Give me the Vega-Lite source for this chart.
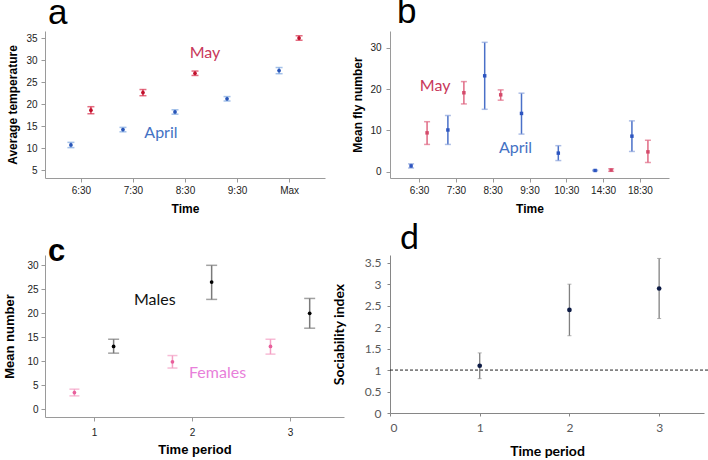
{
"$schema": "https://vega.github.io/schema/vega-lite/v6.json",
"padding": {"left": 3, "top": -5, "right": 0, "bottom": 0},
"bounds": "flush",
"columns": 2,
"spacing": {"row": 77, "column": 46},
"config": {
 "view": {"stroke": null},
 "axis": {"grid": false, "labelOverlap": false, "domainColor": "#9a9a9a", "tickColor": "#9a9a9a", "labelFont": "Liberation Sans", "labelFontSize": 10, "labelColor": "#222", "titleFont": "Liberation Sans", "titleFontWeight": "bold", "titleFontSize": 12, "titleColor": "#000", "tickSize": 4}
},
"datasets": {
 "temp": [
  {"period":"6:30","month":"April","mean":10.7,"lo":10.1,"hi":11.3},
  {"period":"7:30","month":"April","mean":14.2,"lo":13.7,"hi":14.7},
  {"period":"8:30","month":"April","mean":18.2,"lo":17.7,"hi":18.7},
  {"period":"9:30","month":"April","mean":21.2,"lo":20.7,"hi":21.7},
  {"period":"Max","month":"April","mean":27.6,"lo":26.9,"hi":28.3},
  {"period":"6:30","month":"May","mean":18.6,"lo":17.8,"hi":19.4},
  {"period":"7:30","month":"May","mean":22.6,"lo":21.9,"hi":23.3},
  {"period":"8:30","month":"May","mean":27.0,"lo":26.5,"hi":27.5},
  {"period":"Max","month":"May","mean":35.0,"lo":34.5,"hi":35.5}
 ],
 "fly": [
  {"period":"6:30","month":"April","mean":1.4,"lo":0.9,"hi":1.9},
  {"period":"7:30","month":"April","mean":10.1,"lo":6.6,"hi":13.6},
  {"period":"8:30","month":"April","mean":23.2,"lo":15.1,"hi":31.3},
  {"period":"9:30","month":"April","mean":14.1,"lo":9.1,"hi":19.0},
  {"period":"10:30","month":"April","mean":4.5,"lo":2.7,"hi":6.3},
  {"period":"14:30","month":"April","mean":0.3,"lo":0.2,"hi":0.4},
  {"period":"18:30","month":"April","mean":8.6,"lo":4.9,"hi":12.3},
  {"period":"6:30","month":"May","mean":9.4,"lo":6.6,"hi":12.1},
  {"period":"7:30","month":"May","mean":19.1,"lo":16.4,"hi":21.8},
  {"period":"8:30","month":"May","mean":18.6,"lo":17.3,"hi":19.8},
  {"period":"14:30","month":"May","mean":0.4,"lo":0.1,"hi":0.7},
  {"period":"18:30","month":"May","mean":4.8,"lo":2.2,"hi":7.6}
 ],
 "sex": [
  {"period":1,"sex":"Females","mean":3.5,"lo":2.8,"hi":4.2},
  {"period":2,"sex":"Females","mean":9.9,"lo":8.6,"hi":11.2},
  {"period":3,"sex":"Females","mean":13.1,"lo":11.5,"hi":14.6},
  {"period":1,"sex":"Males","mean":13.1,"lo":11.7,"hi":14.6},
  {"period":2,"sex":"Males","mean":26.5,"lo":22.9,"hi":30.0},
  {"period":3,"sex":"Males","mean":20.0,"lo":16.9,"hi":23.1}
 ],
 "soc": [
  {"period":1,"mean":1.1,"lo":0.8,"hi":1.4},
  {"period":2,"mean":2.4,"lo":1.8,"hi":3.0},
  {"period":3,"mean":2.9,"lo":2.2,"hi":3.6}
 ],
 "ref": [{"level": 1, "from": 0, "to": 3.58}],
 "notes_a": [
  {"text":"May","period":"8:30","y":31.6},
  {"text":"April","period":"7:30","y":13.4}
 ],
 "notes_b": [
  {"text":"May","period":"6:30","y":20.7},
  {"text":"April","period":"9:30","y":5.8}
 ],
 "notes_c": [
  {"text":"Males","period":1.62,"y":22.7},
  {"text":"Females","period":2.26,"y":7.56}
 ]
},
"concat": [
  {
   "width": 280, "height": 147,
   "title": {"text": "a", "anchor": "start", "frame": "group", "font": "Liberation Sans", "fontSize": 35, "fontWeight": "normal", "color": "#000", "baseline": "alphabetic", "offset": -28, "dx": 3},
   "data": {"name": "temp"},
   "encoding": {
    "x": {"field": "period", "type": "ordinal", "sort": ["6:30","7:30","8:30","9:30","Max"], "scale": {"type": "point", "padding": 0.69}, "axis": {"title": "Time", "labelAngle": 0, "labelPadding": 3, "titlePadding": 8}}
   },
   "layer": [
    {"transform": [{"filter": "datum.month === 'April'"}], "layer": [
     {"mark": {"type": "rule", "xOffset": -10, "color": "#7ea6e0", "strokeWidth": 1.5}, "encoding": {"y": {"field": "lo", "type": "quantitative", "title": "Average temperature", "scale": {"domain": [3.2, 36.6], "nice": false, "zero": false}, "axis": {"values": [5,10,15,20,25,30,35], "tickCount": 20, "labelOverlap": false, "labelPadding": 4, "titlePadding": 6}}, "y2": {"field": "hi"}}},
     {"mark": {"type": "tick", "orient": "horizontal", "xOffset": -10, "color": "#7ea6e0", "size": 7, "thickness": 1.5}, "encoding": {"y": {"field": "lo", "type": "quantitative", "title": "Average temperature"}}},
     {"mark": {"type": "tick", "orient": "horizontal", "xOffset": -10, "color": "#7ea6e0", "size": 7, "thickness": 1.5}, "encoding": {"y": {"field": "hi", "type": "quantitative", "title": "Average temperature"}}},
     {"mark": {"type": "point", "filled": true, "opacity": 1, "xOffset": -10, "color": "#2855b8", "size": 14}, "encoding": {"y": {"field": "mean", "type": "quantitative", "title": "Average temperature"}}}
    ]},
    {"transform": [{"filter": "datum.month === 'May'"}], "layer": [
     {"mark": {"type": "rule", "xOffset": 10, "color": "#d8324e", "strokeWidth": 1.5}, "encoding": {"y": {"field": "lo", "type": "quantitative", "title": "Average temperature"}, "y2": {"field": "hi"}}},
     {"mark": {"type": "tick", "orient": "horizontal", "xOffset": 10, "color": "#d8324e", "size": 7, "thickness": 1.5}, "encoding": {"y": {"field": "lo", "type": "quantitative", "title": "Average temperature"}}},
     {"mark": {"type": "tick", "orient": "horizontal", "xOffset": 10, "color": "#d8324e", "size": 7, "thickness": 1.5}, "encoding": {"y": {"field": "hi", "type": "quantitative", "title": "Average temperature"}}},
     {"mark": {"type": "point", "filled": true, "opacity": 1, "xOffset": 10, "color": "#c0102c", "size": 14}, "encoding": {"y": {"field": "mean", "type": "quantitative", "title": "Average temperature"}}}
    ]},
    {"data": {"name": "notes_a"}, "transform": [{"filter": "datum.text === 'May'"}], "mark": {"type": "text", "dx": 20, "font": "Lato", "fontSize": 16, "color": "#c8385a"}, "encoding": {"y": {"field": "y", "type": "quantitative", "title": "Average temperature"}, "text": {"field": "text"}}},
    {"data": {"name": "notes_a"}, "transform": [{"filter": "datum.text === 'April'"}], "mark": {"type": "text", "dx": 28, "font": "Lato", "fontSize": 16, "color": "#4472c4"}, "encoding": {"y": {"field": "y", "type": "quantitative", "title": "Average temperature"}, "text": {"field": "text"}}}
   ]
  },
  {
   "width": 279, "height": 147,
   "title": {"text": "b", "anchor": "start", "frame": "group", "font": "Liberation Sans", "fontSize": 35, "fontWeight": "normal", "color": "#000", "baseline": "alphabetic", "offset": -27, "dx": 7},
   "data": {"name": "fly"},
   "encoding": {
    "x": {"field": "period", "type": "ordinal", "sort": ["6:30","7:30","8:30","9:30","10:30","14:30","18:30"], "scale": {"type": "point", "padding": 0.79}, "axis": {"title": "Time", "labelAngle": 0, "labelPadding": 3, "titlePadding": 8}}
   },
   "layer": [
    {"transform": [{"filter": "datum.month === 'April'"}], "layer": [
     {"mark": {"type": "rule", "xOffset": -8, "color": "#4a70c8", "strokeWidth": 1.5}, "encoding": {"y": {"field": "lo", "type": "quantitative", "title": "Mean fly number", "scale": {"domain": [-1.52, 34.04], "nice": false, "zero": false}, "axis": {"values": [0,10,20,30], "tickCount": 20, "labelOverlap": false, "labelPadding": 5, "titlePadding": 5}}, "y2": {"field": "hi"}}},
     {"mark": {"type": "tick", "orient": "horizontal", "xOffset": -8, "color": "#8aa2dc", "size": 6, "thickness": 1.5}, "encoding": {"y": {"field": "lo", "type": "quantitative", "title": "Mean fly number"}}},
     {"mark": {"type": "tick", "orient": "horizontal", "xOffset": -8, "color": "#8aa2dc", "size": 6, "thickness": 1.5}, "encoding": {"y": {"field": "hi", "type": "quantitative", "title": "Mean fly number"}}},
     {"mark": {"type": "point", "shape": "square", "filled": true, "opacity": 1, "xOffset": -8, "color": "#2d55c0", "size": 12}, "encoding": {"y": {"field": "mean", "type": "quantitative", "title": "Mean fly number"}}}
    ]},
    {"transform": [{"filter": "datum.month === 'May'"}], "layer": [
     {"mark": {"type": "rule", "xOffset": 8, "color": "#e06a84", "strokeWidth": 1.5}, "encoding": {"y": {"field": "lo", "type": "quantitative", "title": "Mean fly number"}, "y2": {"field": "hi"}}},
     {"mark": {"type": "tick", "orient": "horizontal", "xOffset": 8, "color": "#e06a84", "size": 6, "thickness": 1.5}, "encoding": {"y": {"field": "lo", "type": "quantitative", "title": "Mean fly number"}}},
     {"mark": {"type": "tick", "orient": "horizontal", "xOffset": 8, "color": "#e06a84", "size": 6, "thickness": 1.5}, "encoding": {"y": {"field": "hi", "type": "quantitative", "title": "Mean fly number"}}},
     {"mark": {"type": "point", "shape": "square", "filled": true, "opacity": 1, "xOffset": 8, "color": "#d44a6a", "size": 12}, "encoding": {"y": {"field": "mean", "type": "quantitative", "title": "Mean fly number"}}}
    ]},
    {"data": {"name": "notes_b"}, "transform": [{"filter": "datum.text === 'May'"}], "mark": {"type": "text", "dx": 16, "font": "Lato", "fontSize": 16, "color": "#c8385a"}, "encoding": {"y": {"field": "y", "type": "quantitative", "title": "Mean fly number"}, "text": {"field": "text"}}},
    {"data": {"name": "notes_b"}, "transform": [{"filter": "datum.text === 'April'"}], "mark": {"type": "text", "dx": -14, "font": "Lato", "fontSize": 16, "color": "#4472c4"}, "encoding": {"y": {"field": "y", "type": "quantitative", "title": "Mean fly number"}, "text": {"field": "text"}}}
   ]
  },
  {
   "width": 299, "height": 162,
   "title": {"text": "c", "anchor": "start", "frame": "group", "font": "Liberation Sans", "fontSize": 31, "fontWeight": "bold", "color": "#000", "baseline": "alphabetic", "offset": -37, "dx": 3},
   "data": {"name": "sex"},
   "encoding": {
    "x": {"field": "period", "type": "quantitative", "scale": {"domain": [0.5, 3.55], "nice": false, "zero": false}, "axis": {"title": "Time period", "values": [1,2,3], "tickCount": 20, "format": "d", "labelPadding": 6, "titlePadding": 6, "titleFontSize": 13}}
   },
   "layer": [
    {"transform": [{"filter": "datum.sex === 'Females'"}], "layer": [
     {"mark": {"type": "rule", "xOffset": -19.6, "color": "#f4a0c4", "strokeWidth": 1.5}, "encoding": {"y": {"field": "lo", "type": "quantitative", "title": "Mean number", "scale": {"domain": [-1.6, 32.15], "nice": false, "zero": false}, "axis": {"values": [0,5,10,15,20,25,30], "tickCount": 20, "labelOverlap": false, "labelPadding": 3, "titlePadding": 10, "titleFontSize": 13}}, "y2": {"field": "hi"}}},
     {"mark": {"type": "tick", "orient": "horizontal", "xOffset": -19.6, "color": "#f4a0c4", "size": 10, "thickness": 1.5}, "encoding": {"y": {"field": "lo", "type": "quantitative", "title": "Mean number"}}},
     {"mark": {"type": "tick", "orient": "horizontal", "xOffset": -19.6, "color": "#f4a0c4", "size": 10, "thickness": 1.5}, "encoding": {"y": {"field": "hi", "type": "quantitative", "title": "Mean number"}}},
     {"mark": {"type": "point", "filled": true, "opacity": 1, "xOffset": -19.6, "color": "#e8609c", "size": 14}, "encoding": {"y": {"field": "mean", "type": "quantitative", "title": "Mean number"}}}
    ]},
    {"transform": [{"filter": "datum.sex === 'Males'"}], "layer": [
     {"mark": {"type": "rule", "xOffset": 19.6, "color": "#7a7a7a", "strokeWidth": 1.5}, "encoding": {"y": {"field": "lo", "type": "quantitative", "title": "Mean number"}, "y2": {"field": "hi"}}},
     {"mark": {"type": "tick", "orient": "horizontal", "xOffset": 19.6, "color": "#7a7a7a", "size": 11, "thickness": 1.5}, "encoding": {"y": {"field": "lo", "type": "quantitative", "title": "Mean number"}}},
     {"mark": {"type": "tick", "orient": "horizontal", "xOffset": 19.6, "color": "#7a7a7a", "size": 11, "thickness": 1.5}, "encoding": {"y": {"field": "hi", "type": "quantitative", "title": "Mean number"}}},
     {"mark": {"type": "point", "filled": true, "opacity": 1, "xOffset": 19.6, "color": "#000000", "size": 14}, "encoding": {"y": {"field": "mean", "type": "quantitative", "title": "Mean number"}}}
    ]},
    {"data": {"name": "notes_c"}, "transform": [{"filter": "datum.text === 'Males'"}], "mark": {"type": "text", "font": "Lato", "fontSize": 16, "color": "#111111"}, "encoding": {"y": {"field": "y", "type": "quantitative", "title": "Mean number"}, "text": {"field": "text"}}},
    {"data": {"name": "notes_c"}, "transform": [{"filter": "datum.text === 'Females'"}], "mark": {"type": "text", "font": "Lato", "fontSize": 16, "color": "#e87fda"}, "encoding": {"y": {"field": "y", "type": "quantitative", "title": "Mean number"}, "text": {"field": "text"}}}
   ]
  },
  {
   "width": 314, "height": 158,
   "title": {"text": "d", "anchor": "start", "frame": "group", "font": "Lato", "fontSize": 34, "fontWeight": "normal", "color": "#000", "baseline": "alphabetic", "offset": -28, "dx": 10},
   "data": {"name": "soc"},
   "encoding": {
    "x": {"field": "period", "type": "quantitative", "scale": {"domain": [0, 3.5], "nice": false, "zero": false}, "axis": {"title": "Time period", "values": [0,1,2,3], "tickCount": 20, "format": "d", "tickSize": 3, "domainColor": "#868686", "tickColor": "#868686", "labelFont": "Lato", "labelFontSize": 12, "labelColor": "#595959", "labelPadding": 6, "titleFont": "Lato", "titleFontSize": 14, "titlePadding": 11}}
   },
   "layer": [
    {"data": {"name": "ref"}, "mark": {"type": "rule", "color": "#222222", "strokeWidth": 1, "strokeDash": [3, 2], "clip": false}, "encoding": {"y": {"field": "level", "type": "quantitative", "title": "Sociability index"}, "x": {"field": "from", "type": "quantitative"}, "x2": {"field": "to"}}},
    {"mark": {"type": "rule", "color": "#808080", "strokeWidth": 1.3}, "encoding": {"y": {"field": "lo", "type": "quantitative", "title": "Sociability index", "scale": {"domain": [0, 3.68], "nice": false, "zero": false}, "axis": {"values": [0,0.5,1,1.5,2,2.5,3,3.5], "tickCount": 20, "labelOverlap": false, "labelExpr": "'' + datum.value", "tickSize": 3, "domainColor": "#868686", "tickColor": "#868686", "labelFont": "Lato", "labelFontSize": 12, "labelColor": "#595959", "labelPadding": 6, "titleFont": "Lato", "titleFontSize": 14, "titlePadding": 18}}, "y2": {"field": "hi"}}},
    {"mark": {"type": "tick", "orient": "horizontal", "color": "#909090", "size": 4, "thickness": 1}, "encoding": {"y": {"field": "lo", "type": "quantitative", "title": "Sociability index"}}},
    {"mark": {"type": "tick", "orient": "horizontal", "color": "#909090", "size": 4, "thickness": 1}, "encoding": {"y": {"field": "hi", "type": "quantitative", "title": "Sociability index"}}},
    {"mark": {"type": "point", "filled": true, "opacity": 1, "color": "#0d1b45", "size": 22}, "encoding": {"y": {"field": "mean", "type": "quantitative", "title": "Sociability index"}}}
   ]
  }
]
}
